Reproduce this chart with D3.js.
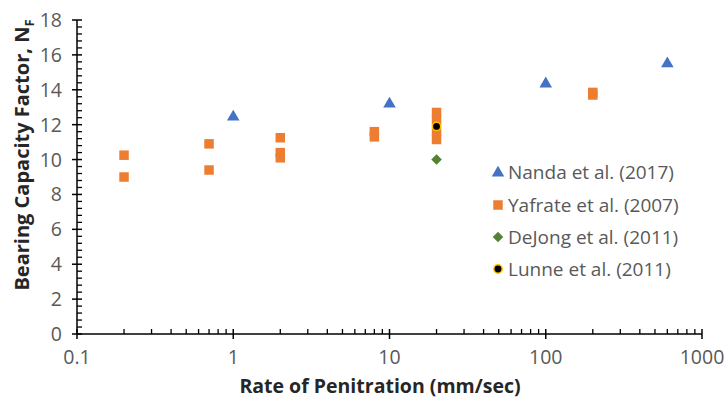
<!DOCTYPE html>
<html><head><meta charset="utf-8">
<script src="https://cdn.jsdelivr.net/npm/d3@7"></script>
<style>body{margin:0;background:#fff}svg{display:block}</style>
</head><body>
<svg id="c" width="725" height="399"></svg>
<script>
const nandaX = [1, 10, 100, 600];
const nandaY = [12.5, 13.25, 14.4, 15.55];
const yafrateX = [0.2, 0.2, 0.7, 0.7, 2, 2, 2, 8, 8, 20, 20, 20, 20, 200, 200];
const yafrateY = [10.25, 9.0, 10.9, 9.4, 11.25, 10.4, 10.1, 11.6, 11.3, 12.7, 12.25, 11.6, 11.15, 13.85, 13.7];
const dejongX = [20];
const dejongY = [10.0];
const lunneX = [20];
const lunneY = [11.9];
const xTicks = [0.1, 1, 10, 100, 1000];
const yTicks = [0, 2, 4, 6, 8, 10, 12, 14, 16, 18];
const seriesNames = ["Nanda et al. (2017)", "Yafrate et al. (2007)", "DeJong et al. (2011)", "Lunne et al. (2011)"];

const svg = d3.select("#c");
const x = d3.scaleLog().domain([0.1, 1000]).range([77, 702]);
const y = d3.scaleLinear().domain([0, 18]).range([334, 20]);
const font = "'Open Sans', 'Liberation Sans', sans-serif";
const axisCol = "#000";
const labelCol = "#595959";

// Y axis
const gy = svg.append("g");
gy.append("line").attr("x1", x(0.1)).attr("x2", x(0.1)).attr("y1", y(0)).attr("y2", y(18)).attr("stroke", axisCol).attr("stroke-width", 1.5);
const yMinor = d3.range(0, 18.001, 0.4).filter(v => Math.abs(v / 2 - Math.round(v / 2)) > 0.01);
gy.selectAll(".ymin").data(yMinor).join("line")
  .attr("x1", x(0.1)).attr("x2", x(0.1) + 5).attr("y1", d => y(d)).attr("y2", d => y(d))
  .attr("stroke", axisCol).attr("stroke-width", 1.3);
gy.selectAll(".ymaj").data(yTicks).join("line")
  .attr("x1", x(0.1) - 5).attr("x2", x(0.1) + 5).attr("y1", d => y(d)).attr("y2", d => y(d))
  .attr("stroke", axisCol).attr("stroke-width", 1.5);
gy.selectAll("text").data(yTicks).join("text")
  .attr("x", x(0.1) - 15).attr("y", d => y(d)).attr("dy", "0.36em")
  .attr("text-anchor", "end").attr("font-family", font).attr("font-size", 19.5).attr("fill", labelCol)
  .text(d => d);

// X axis
const gx = svg.append("g");
gx.append("line").attr("x1", x(0.1)).attr("x2", x(1000)).attr("y1", y(0)).attr("y2", y(0)).attr("stroke", axisCol).attr("stroke-width", 1.5);
const xMinor = [];
[0.1, 1, 10, 100].forEach(d => { for (let k = 2; k <= 9; k++) xMinor.push(d * k); });
gx.selectAll(".xmin").data(xMinor).join("line")
  .attr("x1", d => x(d)).attr("x2", d => x(d)).attr("y1", y(0)).attr("y2", y(0) - 5)
  .attr("stroke", axisCol).attr("stroke-width", 1.3);
gx.selectAll(".xmaj").data(xTicks).join("line")
  .attr("x1", d => x(d)).attr("x2", d => x(d)).attr("y1", y(0) - 5).attr("y2", y(0) + 5)
  .attr("stroke", axisCol).attr("stroke-width", 1.5);
gx.selectAll("text").data(xTicks).join("text")
  .attr("x", d => x(d)).attr("y", y(0) + 30)
  .attr("text-anchor", "middle").attr("font-family", font).attr("font-size", 19.5).attr("fill", labelCol)
  .text(d => d);

// Axis titles
svg.append("text").attr("x", 380).attr("y", 393).attr("text-anchor", "middle")
  .attr("font-family", font).attr("font-size", 19.5).attr("font-weight", "bold").attr("fill", "#262626")
  .text("Rate of Penitration (mm/sec)");
const yt = svg.append("text").attr("transform", "translate(29,155) rotate(-90)").attr("text-anchor", "middle")
  .attr("font-family", font).attr("font-size", 20).attr("font-weight", "bold").attr("fill", "#262626");
yt.append("tspan").text("Bearing Capacity Factor, N");
yt.append("tspan").attr("font-size", 13).attr("dy", 5).text("F");

// Markers
const colors = { nanda: "#4472C4", yafrate: "#ED7D31", dejong: "#548235", lunneFill: "#000", lunneStroke: "#FFC000" };
const tri = d3.symbol().type(d3.symbolTriangle).size(68);
const sq = d3.symbol().type(d3.symbolSquare).size(90);
const dia = d3.symbol().type(d3.symbolSquare).size(56);
const circ = d3.symbol().type(d3.symbolCircle).size(55);

const yaf = yafrateX.map((v, i) => [v, yafrateY[i]]);
svg.append("g").selectAll("path").data(yaf).join("path")
  .attr("d", sq).attr("transform", d => `translate(${x(d[0])},${y(d[1])})`).attr("fill", colors.yafrate);
const nan = nandaX.map((v, i) => [v, nandaY[i]]);
svg.append("g").selectAll("path").data(nan).join("path")
  .attr("d", tri).attr("transform", d => `translate(${x(d[0])},${y(d[1]) + 1})`).attr("fill", colors.nanda);
const dej = dejongX.map((v, i) => [v, dejongY[i]]);
svg.append("g").selectAll("path").data(dej).join("path")
  .attr("d", dia).attr("transform", d => `translate(${x(d[0])},${y(d[1])}) rotate(45)`).attr("fill", colors.dejong);
const lun = lunneX.map((v, i) => [v, lunneY[i]]);
svg.append("g").selectAll("path").data(lun).join("path")
  .attr("d", circ).attr("transform", d => `translate(${x(d[0])},${y(d[1])})`).attr("fill", colors.lunneFill)
  .attr("stroke", colors.lunneStroke).attr("stroke-width", 1.5);

// Legend
const legG = svg.append("g");
const legY = [172, 205, 237, 269];
const legSym = [tri, sq, dia, circ];
const legFill = [colors.nanda, colors.yafrate, colors.dejong, colors.lunneFill];
seriesNames.forEach((name, i) => {
  const p = legG.append("path").attr("d", legSym[i])
    .attr("transform", `translate(498,${legY[i] + (i === 0 ? 1 : 0)})${i === 2 ? " rotate(45)" : ""}`).attr("fill", legFill[i]);
  if (i === 3) p.attr("stroke", colors.lunneStroke).attr("stroke-width", 1.5);
  legG.append("text").attr("x", 508).attr("y", legY[i]).attr("dy", "0.36em")
    .attr("font-family", font).attr("font-size", 19).attr("fill", labelCol).text(name);
});
</script>
</body></html>
